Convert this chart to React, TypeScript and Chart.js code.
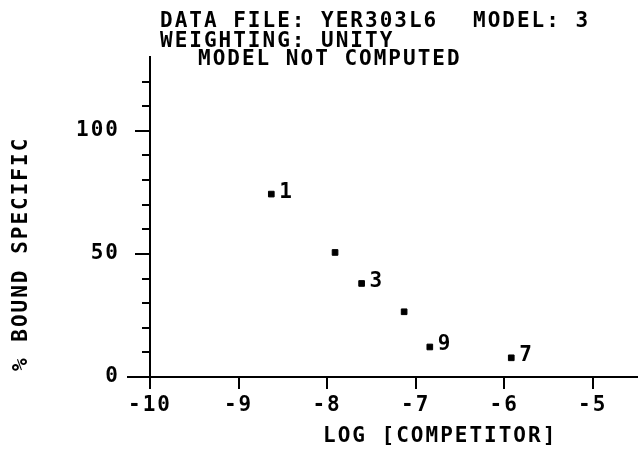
import React, { useEffect, useRef } from "react";
import { Chart, registerables } from "chart.js";

Chart.register(...registerables);

const logCompetitor = [-8.63, -7.91, -7.61, -7.13, -6.84, -5.92];
const boundSpecific = [74.3, 50.6, 38.0, 26.5, 12.2, 7.8];
const pointLabels = ["1", "", "3", "", "9", "7"];
const xTicks = [-10, -9, -8, -7, -6, -5];
const yMajorTicks = [0, 50, 100];
const yMinorTicks = [10, 20, 30, 40, 60, 70, 80, 90, 110, 120];
const headerLines = [
  { text: "DATA FILE: YER303L6", x: 160, y: 27 },
  { text: "MODEL: 3", x: 473, y: 27 },
  { text: "WEIGHTING: UNITY", x: 160, y: 47 },
  { text: "MODEL NOT COMPUTED", x: 198, y: 65 },
];
const xTitle = "LOG [COMPETITOR]";
const yTitle = "% BOUND SPECIFIC";

const FONT = 'bold 21px "DejaVu Sans Mono"';
const SPACING = "2px";

const plotterPlugin = {
  id: "plotter",
  beforeLayout(chart: any) {
    (chart.ctx as any).letterSpacing = SPACING;
  },
  beforeDraw(chart: any) {
    (chart.ctx as any).letterSpacing = SPACING;
  },
  afterDraw(chart: any) {
    const ctx = chart.ctx;
    const xs = chart.scales.x;
    const ys = chart.scales.y;
    ctx.save();
    (ctx as any).letterSpacing = SPACING;
    ctx.fillStyle = "#000";
    ctx.strokeStyle = "#000";
    ctx.font = FONT;
    ctx.textBaseline = "alphabetic";
    ctx.textAlign = "left";
    headerLines.forEach((l) => ctx.fillText(l.text, l.x, l.y));

    // minor y ticks and short leftward extension of the x axis
    ctx.lineWidth = 2;
    const axisX = xs.left;
    yMinorTicks.forEach((v) => {
      const py = Math.round(ys.getPixelForValue(v));
      ctx.beginPath();
      ctx.moveTo(axisX - 8, py);
      ctx.lineTo(axisX, py);
      ctx.stroke();
    });
    const y0 = Math.round(ys.getPixelForValue(0));
    ctx.beginPath();
    ctx.moveTo(axisX - 23, y0);
    ctx.lineTo(axisX, y0);
    ctx.stroke();

    // point labels
    ctx.textBaseline = "middle";
    pointLabels.forEach((lab, i) => {
      if (!lab) return;
      const px = xs.getPixelForValue(logCompetitor[i]);
      const py = ys.getPixelForValue(boundSpecific[i]);
      ctx.fillText(lab, px + 8, py - 2);
    });

    // axis titles
    ctx.textBaseline = "middle";
    ctx.textAlign = "left";
    ctx.fillText(xTitle, 323, 437);
    ctx.save();
    ctx.translate(22, 371);
    ctx.rotate(-Math.PI / 2);
    ctx.fillText(yTitle, 0, 0);
    ctx.restore();
    ctx.restore();
  },
};

export default function App() {
  const ref = useRef<HTMLCanvasElement | null>(null);
  useEffect(() => {
    if (!ref.current) return;
    const chart = new Chart(ref.current, {
      type: "scatter",
      data: {
        datasets: [
          {
            data: logCompetitor.map((x, i) => ({ x, y: boundSpecific[i] })),
            pointStyle: "rect",
            pointRadius: 4,
            backgroundColor: "#000",
            borderColor: "#000",
            borderWidth: 1,
          },
        ],
      },
      options: {
        animation: false,
        responsive: false,
        maintainAspectRatio: false,
        layout: { padding: { top: 57, left: 0, right: 0, bottom: 0 } },
        plugins: { legend: { display: false }, tooltip: { enabled: false }, title: { display: false } },
        scales: {
          x: {
            type: "linear",
            min: -10,
            max: -4.5,
            afterBuildTicks: (s: any) => {
              s.ticks = xTicks.map((v) => ({ value: v }));
            },
            afterFit: (s: any) => {
              s.height = 72;
            },
            grid: { drawOnChartArea: false, drawTicks: true, tickLength: 12, color: "#000", lineWidth: 2 },
            border: { display: true, color: "#000", width: 2 },
            ticks: { color: "#000", font: { family: "DejaVu Sans Mono", size: 21, weight: "bold" }, padding: 4, maxRotation: 0, autoSkip: false },
          },
          y: {
            type: "linear",
            min: 0,
            max: 130,
            afterBuildTicks: (s: any) => {
              s.ticks = yMajorTicks.map((v) => ({ value: v }));
            },
            afterFit: (s: any) => {
              s.width = 150;
            },
            grid: { drawOnChartArea: false, drawTicks: true, tickLength: 15, color: "#000", lineWidth: 2 },
            border: { display: true, color: "#000", width: 2 },
            ticks: { color: "#000", font: { family: "DejaVu Sans Mono", size: 21, weight: "bold" }, padding: 15, autoSkip: false },
          },
        },
      },
      plugins: [plotterPlugin],
    });
    return () => chart.destroy();
  }, []);
  return (
    <div style={{ position: "fixed", left: 0, top: 0, width: 642, height: 449, background: "#fff" }}>
      <canvas ref={ref} width={642} height={449} style={{ width: 642, height: 449 }} />
    </div>
  );
}
